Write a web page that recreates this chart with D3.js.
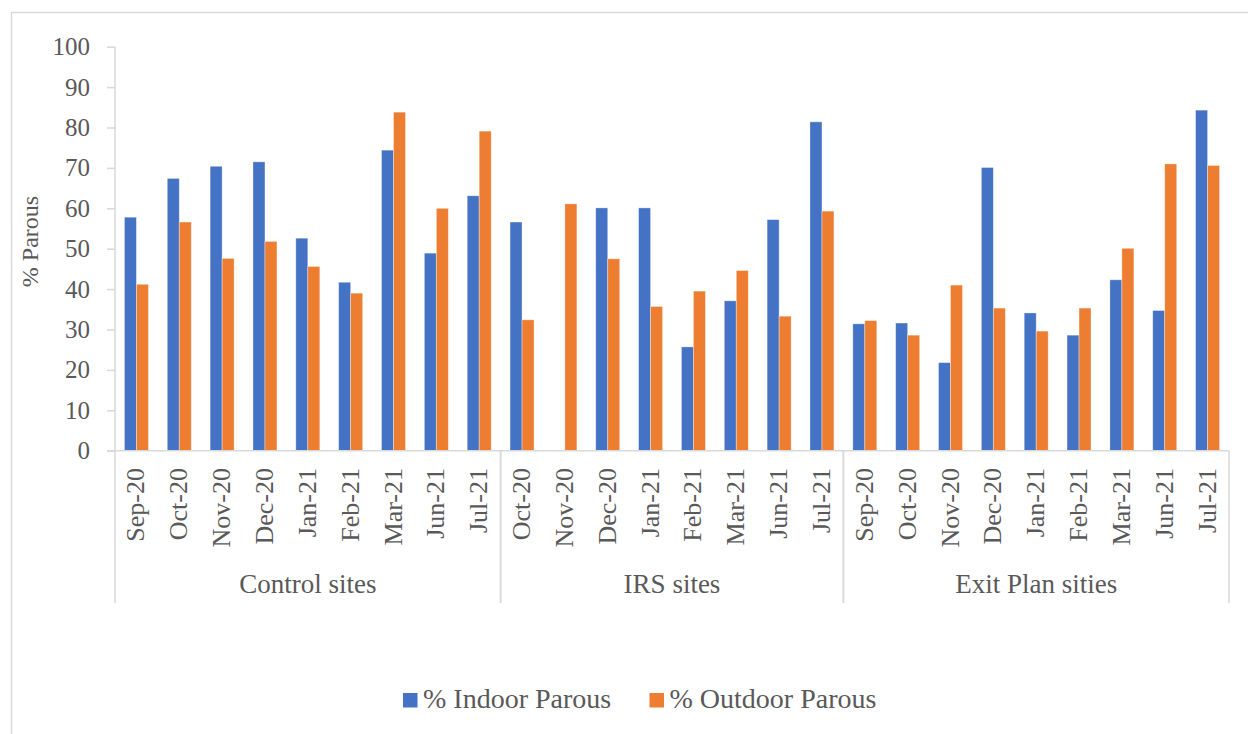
<!DOCTYPE html>
<html>
<head>
<meta charset="utf-8">
<script src="https://cdn.jsdelivr.net/npm/d3@7"></script>
<style>
  html, body { margin: 0; padding: 0; background: #fff; }
  svg { display: block; }
  text { font-family: "Liberation Serif", "DejaVu Serif", serif; fill: #595959; }
</style>
</head>
<body>
<svg id="chart" width="1248" height="734"></svg>
<script>
// Site groups and the survey months within each
const groups = ["Control sites", "IRS sites", "Exit Plan sities"];
const controlMonths = ["Sep-20", "Oct-20", "Nov-20", "Dec-20", "Jan-21", "Feb-21", "Mar-21", "Jun-21", "Jul-21"];
const irsMonths = ["Oct-20", "Nov-20", "Dec-20", "Jan-21", "Feb-21", "Mar-21", "Jun-21", "Jul-21"];
const exitMonths = ["Sep-20", "Oct-20", "Nov-20", "Dec-20", "Jan-21", "Feb-21", "Mar-21", "Jun-21", "Jul-21"];

// % parous, indoor and outdoor collections
const controlIndoor = [57.8, 67.4, 70.4, 71.5, 52.6, 41.7, 74.4, 48.9, 63.1];
const controlOutdoor = [41.2, 56.6, 47.6, 51.8, 45.6, 39.0, 83.8, 60.0, 79.1];
const irsIndoor = [56.6, 0, 60.1, 60.1, 25.7, 37.1, 57.2, 81.4];
const irsOutdoor = [32.4, 61.1, 47.5, 35.7, 39.5, 44.6, 33.3, 59.3];
const exitIndoor = [31.4, 31.6, 21.8, 70.1, 34.1, 28.6, 42.3, 34.7, 84.3];
const exitOutdoor = [32.2, 28.6, 41.0, 35.3, 29.6, 35.3, 50.1, 71.0, 70.6];

const seriesNames = ["% Indoor Parous", "% Outdoor Parous"];
const seriesColors = ["#4472C4", "#ED7D31"];
const yTicks = [0, 10, 20, 30, 40, 50, 60, 70, 80, 90, 100];

// Flatten into one row per bar pair
const monthLists = [controlMonths, irsMonths, exitMonths];
const indoorLists = [controlIndoor, irsIndoor, exitIndoor];
const outdoorLists = [controlOutdoor, irsOutdoor, exitOutdoor];
const rows = [];
monthLists.forEach((months, g) => {
  months.forEach((m, i) => {
    rows.push({ key: g + "|" + m, group: groups[g], month: m,
                values: [indoorLists[g][i], outdoorLists[g][i]] });
  });
});

const svg = d3.select("#chart");
const axisColor = "#d9d9d9";

// Outer chart frame
svg.append("rect")
  .attr("x", 11.5).attr("y", 12.5)
  .attr("width", 1300).attr("height", 800)
  .attr("fill", "none").attr("stroke", axisColor).attr("stroke-width", 1.5);

const plot = { left: 115, right: 1229, top: 46.7, bottom: 450.7 };

const x = d3.scaleBand()
  .domain(rows.map(d => d.key))
  .range([plot.left, plot.right])
  .paddingInner(0.44)
  .paddingOuter(0.22);

const xSub = d3.scaleBand()
  .domain([0, 1])
  .range([0, x.bandwidth()]);

const y = d3.scaleLinear()
  .domain([0, 100])
  .range([plot.bottom, plot.top]);

// Y axis
const yAxis = svg.append("g")
  .attr("transform", `translate(${plot.left},0)`)
  .call(d3.axisLeft(y).tickValues(yTicks).tickSize(8).tickPadding(17));
yAxis.select(".domain").attr("stroke", axisColor).attr("stroke-width", 1.5)
  .attr("d", `M0,${plot.top}V${plot.bottom}`);
yAxis.selectAll(".tick line").attr("stroke", axisColor).attr("stroke-width", 1.5);
yAxis.selectAll(".tick text")
  .style("font-family", "'Liberation Serif', serif")
  .attr("font-size", 25).attr("fill", "#595959");

// Y axis title
svg.append("text")
  .attr("transform", `translate(38,241.5) rotate(-90)`)
  .attr("text-anchor", "middle")
  .attr("font-size", 24)
  .text("% Parous");

// Bars
const bars = svg.append("g");
rows.forEach(r => {
  r.values.forEach((v, s) => {
    if (v <= 0) return;
    bars.append("rect")
      .attr("x", x(r.key) + xSub(s))
      .attr("y", y(v))
      .attr("width", xSub.bandwidth())
      .attr("height", y(0) - y(v))
      .attr("fill", seriesColors[s])
      .attr("stroke", "#ffffff")
      .attr("stroke-opacity", 0.45)
      .attr("stroke-width", 0.8);
  });
});

// Horizontal category axis line
svg.append("line")
  .attr("x1", plot.left - 8).attr("x2", plot.right)
  .attr("y1", plot.bottom).attr("y2", plot.bottom)
  .attr("stroke", axisColor).attr("stroke-width", 1.5);

// Month labels, rotated
rows.forEach(r => {
  const cx = x(r.key) + x.bandwidth() / 2;
  svg.append("text")
    .attr("transform", `translate(${cx + 8},468) rotate(-90)`)
    .attr("text-anchor", "end")
    .attr("font-size", 26)
    .text(r.month);
});

// Group separators and group labels
const step = x.step();
let start = 0;
monthLists.forEach((months, g) => {
  const x0 = plot.left + start * step;
  const x1 = plot.left + (start + months.length) * step;
  [x0, x1].forEach(xx => {
    svg.append("line")
      .attr("x1", xx).attr("x2", xx)
      .attr("y1", plot.bottom).attr("y2", 603)
      .attr("stroke", axisColor).attr("stroke-width", 1.5);
  });
  svg.append("text")
    .attr("x", (x0 + x1) / 2).attr("y", 593)
    .attr("text-anchor", "middle")
    .attr("font-size", 27)
    .text(groups[g]);
  start += months.length;
});

// Legend
const legendItems = [
  { name: seriesNames[0], color: seriesColors[0], sx: 403, tx: 423 },
  { name: seriesNames[1], color: seriesColors[1], sx: 649.5, tx: 669.5 }
];
legendItems.forEach(it => {
  svg.append("rect")
    .attr("x", it.sx).attr("y", 693)
    .attr("width", 14.5).attr("height", 14.5)
    .attr("fill", it.color);
  svg.append("text")
    .attr("x", it.tx).attr("y", 708)
    .attr("font-size", 28)
    .text(it.name);
});
</script>
</body>
</html>
